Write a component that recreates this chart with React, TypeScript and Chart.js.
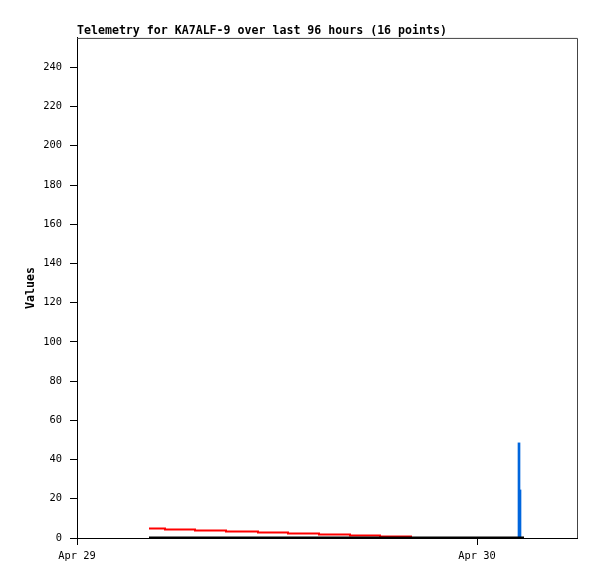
import React, { useEffect, useRef } from 'react';
import { Chart, registerables } from 'chart.js';

Chart.register(...registerables);

// ---- data ----
const chartTitle = 'Telemetry for KA7ALF-9 over last 96 hours (16 points)';
const yAxisTitle = 'Values';
// hours since Apr 29 00:00
const xTickValues = [0, 24];
const xTickLabels = ['Apr 29', 'Apr 30'];
const xMax = 30;
const yMax = 255;

const redHours = [4.32, 5.28, 7.08, 8.94, 10.86, 12.66, 14.52, 16.38, 18.18, 20.04];
const redValues = [4.8, 4.3, 3.8, 3.3, 2.8, 2.3, 1.8, 1.3, 0.8, 0.25];

const blackHours = [4.32, 5.28, 7.08, 8.94, 10.86, 12.66, 14.52, 16.38, 18.18, 20.04, 26.82];
const blackValues = [0.25, 0.25, 0.25, 0.25, 0.25, 0.25, 0.25, 0.25, 0.25, 0.25, 0.25];

const blueHours = [26.52, 26.58];
const blueValues = [48.5, 24.5];

const MONO = '"DejaVu Sans Mono", monospace';

const framePlugin = {
  id: 'frame',
  afterDatasetsDraw(chart: any) {
    const { ctx, chartArea: a } = chart;
    ctx.save();
    ctx.strokeStyle = '#444444';
    ctx.lineWidth = 1;
    ctx.beginPath();
    ctx.moveTo(a.left, a.top + 0.5);
    ctx.lineTo(a.right + 0.5, a.top + 0.5);
    ctx.lineTo(a.right + 0.5, a.bottom);
    ctx.stroke();
    ctx.restore();
  },
};

export default function App() {
  const ref = useRef<HTMLCanvasElement | null>(null);

  useEffect(() => {
    const canvas = ref.current;
    if (!canvas) return;
    const toPts = (xs: number[], ys: number[]) => xs.map((x, i) => ({ x, y: ys[i] }));
    const chart = new Chart(canvas, {
      type: 'line',
      data: {
        datasets: [
          {
            type: 'line',
            label: 'red',
            data: toPts(redHours, redValues),
            borderColor: '#ff0000',
            borderWidth: 2,
            stepped: true,
            pointRadius: 0,
            fill: false,
            order: 2,
          } as any,
          {
            type: 'line',
            label: 'black',
            data: toPts(blackHours, blackValues),
            borderColor: '#000000',
            borderWidth: 2,
            stepped: true,
            pointRadius: 0,
            fill: false,
            order: 1,
          } as any,
          {
            type: 'bar',
            label: 'blue',
            data: toPts(blueHours, blueValues),
            backgroundColor: '#0066dd',
            borderWidth: 0,
            barThickness: 2,
            grouped: false,
            order: 3,
          } as any,
        ],
      },
      options: {
        animation: false,
        responsive: false,
        events: [],
        layout: { padding: { top: 0, left: 0, right: 20, bottom: 0 } },
        plugins: {
          legend: { display: false },
          tooltip: { enabled: false },
          title: {
            display: true,
            text: chartTitle,
            align: 'start',
            fullSize: false,
            color: '#000000',
            font: { family: MONO, size: 11.6, weight: 'bold' },
            padding: { top: 24, bottom: 0 },
          },
        },
        scales: {
          x: {
            type: 'linear',
            min: 0,
            max: xMax,
            offset: false,
            afterBuildTicks: (scale: any) => {
              scale.ticks = xTickValues.map((v) => ({ value: v }));
            },
            afterFit: (scale: any) => {
              scale.height = 41;
            },
            ticks: {
              autoSkip: false,
              maxRotation: 0,
              color: '#000000',
              padding: 5,
              font: { family: MONO, size: 10.4 },
              callback: (v: any) => {
                const i = xTickValues.indexOf(Number(v));
                return i >= 0 ? xTickLabels[i] : '';
              },
            },
            grid: {
              display: true,
              offset: false,
              drawOnChartArea: false,
              drawTicks: true,
              tickLength: 7,
              color: '#000000',
            },
            border: { display: true, color: '#000000', width: 1 },
          },
          y: {
            type: 'linear',
            min: 0,
            max: yMax,
            afterFit: (scale: any) => {
              scale.width = 77;
            },
            title: {
              display: true,
              text: yAxisTitle,
              color: '#000000',
              font: { family: MONO, size: 11.6, weight: 'bold' },
              padding: { top: 24, bottom: 0 },
            },
            ticks: {
              stepSize: 20,
              includeBounds: false,
              color: '#000000',
              padding: 8,
              font: { family: MONO, size: 10.4 },
            },
            grid: {
              display: true,
              drawOnChartArea: false,
              drawTicks: true,
              tickLength: 7,
              color: '#000000',
            },
            border: { display: true, color: '#000000', width: 1 },
          },
        },
      } as any,
      plugins: [framePlugin],
    });
    return () => chart.destroy();
  }, []);

  return (
    <div style={{ position: 'absolute', left: 0, top: 0, width: 597, height: 579, background: '#ffffff' }}>
      <canvas ref={ref} width={597} height={579} style={{ display: 'block' }} />
    </div>
  );
}
